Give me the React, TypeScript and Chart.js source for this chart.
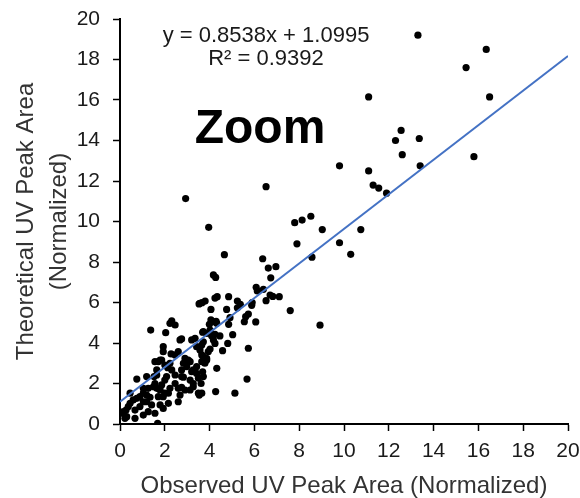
import React, { useEffect, useRef } from "react";
import { Chart, registerables } from "chart.js";

Chart.register(...registerables);

// Observed (x) and Theoretical (y) UV peak areas, normalized
const observedX: number[] = [
  13.3, 16.35, 15.45, 11.1, 16.5, 12.55, 12.3, 13.36, 12.6, 11.1, 13.4, 15.8, 9.8, 11.3, 11.55, 11.9,
  7.8, 8.13, 8.52, 9.03, 10.75, 7.9, 9.8, 8.57, 10.3, 7.6, 8.93,
  6.52, 2.93, 3.96, 4.66, 6.37, 6.62, 6.96, 6.73, 4.17, 4.27, 6.08, 6.13, 6.4, 6.7, 6.82, 7.11, 6.52,
  3.53, 3.8, 4.24, 4.34, 4.85, 5.24, 5.37, 5.24, 5.88, 4.06, 4.76, 5.73, 5.61, 4.06, 4.29, 4.91, 5.55, 6.06,
  3.99, 4.85, 3.66, 5.9, 3.69, 4.09, 4.24, 4.46, 5.03, 4.17, 4.24, 4.81, 4.02, 4.58, 5.73, 3.72, 3.87, 3.65,
  3.79, 3.69, 4.32, 5.67, 3.62, 3.65, 4.27, 5.13,
  1.37, 2.31, 2.23, 2.46, 2.04, 2.68, 2.75, 1.93, 1.93, 1.71, 1.79, 0.75, 1.19, 1.52, 1.64, 2.28, 2.46, 2.6,
  2.13, 2.31, 2.46, 2.75, 2.83, 2.98, 3.13, 3.27, 3.42, 2.6, 2.75, 2.68, 3.13, 3.54, 2.6, 3.27, 1.04, 1.19,
  0.89, 1.34, 0.45, 0.59, 0.75, 0.15, 0.27, 0.67, 0.3, 0.67, 1.04, 1.56, 1.93, 1.68, 3.42, 3.65, 3.72, 3.57,
  3.87, 4.02, 4.17, 4.32, 3.57, 3.2, 3.35, 2.9, 3.05, 2.83, 2.08, 2.0, 1.49, 1.64, 1.79, 2.23, 1.93, 2.16,
  1.19, 1.41, 0.89, 1.04, 0.45,
  0.22, 1.64, 2.0, 2.23, 1.56, 1.86, 2.75, 3.2, 3.42, 3.87, 3.13, 3.5, 3.72, 2.46, 2.9, 3.27, 3.5, 1.56,
  1.86, 1.26, 1.71, 2.0, 2.16, 1.79, 1.04, 0.37, 1.26, 0.08, 3.72, 3.65, 3.94,
];

const theoreticalY: number[] = [
  19.2, 18.5, 17.6, 16.15, 16.15, 14.5, 14.0, 14.1, 13.3, 12.5, 12.75, 13.2, 12.75, 11.8, 11.65, 11.4,
  9.94, 10.07, 10.26, 9.6, 9.6, 8.9, 8.95, 8.24, 8.38, 5.6, 4.88,
  11.72, 11.13, 9.71, 8.36, 8.16, 7.7, 7.77, 7.22, 7.36, 7.24, 6.75, 6.57, 6.65, 6.37, 6.3, 6.29, 6.09,
  5.93, 6.07, 6.22, 6.29, 6.29, 6.07, 5.91, 5.74, 5.86, 5.66, 5.66, 5.43, 5.3, 5.14, 5.07, 5.25, 5.05, 5.04,
  4.92, 4.92, 5.99, 6.0, 4.53, 4.36, 4.43, 4.35, 4.41, 4.15, 3.98, 3.98, 3.7, 3.62, 3.74, 3.32, 3.24, 3.08,
  3.0, 2.58, 2.75, 2.22, 2.0, 1.52, 1.6, 1.52,
  4.64, 5.1, 4.97, 4.89, 4.51, 4.15, 4.2, 3.82, 3.57, 3.08, 3.16, 2.22, 2.34, 2.34, 2.42, 3.46, 3.41, 3.57,
  2.78, 2.67, 2.42, 2.34, 2.31, 2.83, 3.08, 2.67, 2.5, 1.76, 1.81, 1.43, 1.68, 1.43, 1.1, 2.0, 1.52, 1.43,
  1.35, 1.32, 1.02, 1.19, 1.27, 0.61, 0.69, 0.69, 0.36, 0.28, 0.44, 0.53, 0.77, 0.03, 3.82, 3.9, 4.06, 3.65,
  4.48, 4.64, 5.05, 4.97, 5.96, 4.15, 4.23, 3.24, 3.16, 3.0, 2.34, 2.17, 1.84, 1.76, 1.68, 1.76, 1.35, 1.52,
  1.1, 0.94, 0.86, 1.76, 1.52,
  0.28, 2.67, 2.91, 3.0, 3.08, 3.16, 2.67, 2.58, 2.83, 3.16, 2.17, 2.26, 2.34, 2.0, 1.68, 1.84, 1.52, 2.0,
  1.93, 1.76, 1.35, 1.52, 1.02, 0.94, 1.1, 0.86, 0.61, 0.53, 4.56, 3.41, 3.57,
];

// Trendline from the chart's own equation
const trendSlope = 0.8538;
const trendIntercept = 1.0995;
const trendRange: number[] = [0, 20];

const equationText = "y = 0.8538x + 1.0995";
const r2Text = "R² = 0.9392";
const zoomText = "Zoom";

const xAxisTitle = "Observed UV Peak Area (Normalized)";
const yAxisTitle: string[] = ["Theoretical UV Peak Area", "(Normalized)"];

const FONT = "'Liberation Sans', Arial, sans-serif";

export default function App() {
  const canvasRef = useRef<HTMLCanvasElement | null>(null);

  useEffect(() => {
    const canvas = canvasRef.current;
    if (!canvas) return;

    const points = observedX.map((x, i) => ({ x, y: theoreticalY[i] }));
    const trend = trendRange.map((x) => ({ x, y: trendSlope * x + trendIntercept }));

    const textPlugin = {
      id: "annotText",
      afterDraw(chart: any) {
        const ctx = chart.ctx;
        ctx.save();
        ctx.fillStyle = "#1a1a1a";
        ctx.textAlign = "center";
        ctx.textBaseline = "alphabetic";
        ctx.font = `22px ${FONT}`;
        ctx.fillText(equationText, 266, 42);
        ctx.fillText(r2Text, 266, 65);
        ctx.fillStyle = "#000";
        ctx.font = `bold 48px ${FONT}`;
        ctx.fillText(zoomText, 260, 143);
        ctx.restore();
      },
    };

    const chart = new Chart(canvas, {
      type: "scatter",
      data: {
        datasets: [
          {
            label: "Trend",
            data: trend,
            showLine: true,
            borderColor: "#4472C4",
            borderWidth: 2,
            pointRadius: 0,
            fill: false,
          },
          {
            label: "Data",
            data: points,
            backgroundColor: "#000",
            borderWidth: 0,
            pointRadius: 3.6,
          },
        ],
      },
      options: {
        responsive: false,
        animation: false,
        devicePixelRatio: 1,
        layout: { padding: { top: 19, right: 12, left: 0, bottom: 0 } },
        plugins: { legend: { display: false }, tooltip: { enabled: false } },
        scales: {
          x: {
            type: "linear",
            min: 0,
            max: 20,
            ticks: {
              stepSize: 2,
              color: "#1a1a1a",
              font: { family: FONT, size: 21 },
              padding: 8,
              maxRotation: 0,
            },
            grid: {
              display: true,
              drawOnChartArea: false,
              drawTicks: true,
              tickLength: 7,
              tickColor: "#000",
              tickWidth: 1.5,
            },
            border: { display: true, color: "#000", width: 2 },
            title: {
              display: true,
              text: xAxisTitle,
              color: "#333",
              font: { family: FONT, size: 24, lineHeight: 1 },
              padding: { top: 0, bottom: 0 },
            },
            afterFit(scale: any) {
              scale.height = 74;
              scale.paddingLeft = 0;
              scale.paddingRight = 0;
            },
          },
          y: {
            type: "linear",
            min: 0,
            max: 20,
            ticks: {
              stepSize: 2,
              color: "#1a1a1a",
              font: { family: FONT, size: 21 },
              padding: 13,
            },
            grid: {
              display: true,
              drawOnChartArea: false,
              drawTicks: true,
              tickLength: 7,
              tickColor: "#000",
              tickWidth: 1.5,
            },
            border: { display: true, color: "#000", width: 2 },
            title: {
              display: true,
              text: yAxisTitle,
              color: "#333",
              font: { family: FONT, size: 24, lineHeight: "33px" as any },
              padding: { top: 10, bottom: 0 },
            },
            afterFit(scale: any) {
              scale.width = 120;
              scale.paddingTop = 0;
              scale.paddingBottom = 0;
            },
          },
        },
      },
      plugins: [textPlugin],
    });

    return () => chart.destroy();
  }, []);

  return (
    <div style={{ position: "absolute", left: 0, top: 0, width: 580, height: 498, background: "#fff" }}>
      <canvas ref={canvasRef} width={580} height={498} style={{ display: "block" }} />
    </div>
  );
}
